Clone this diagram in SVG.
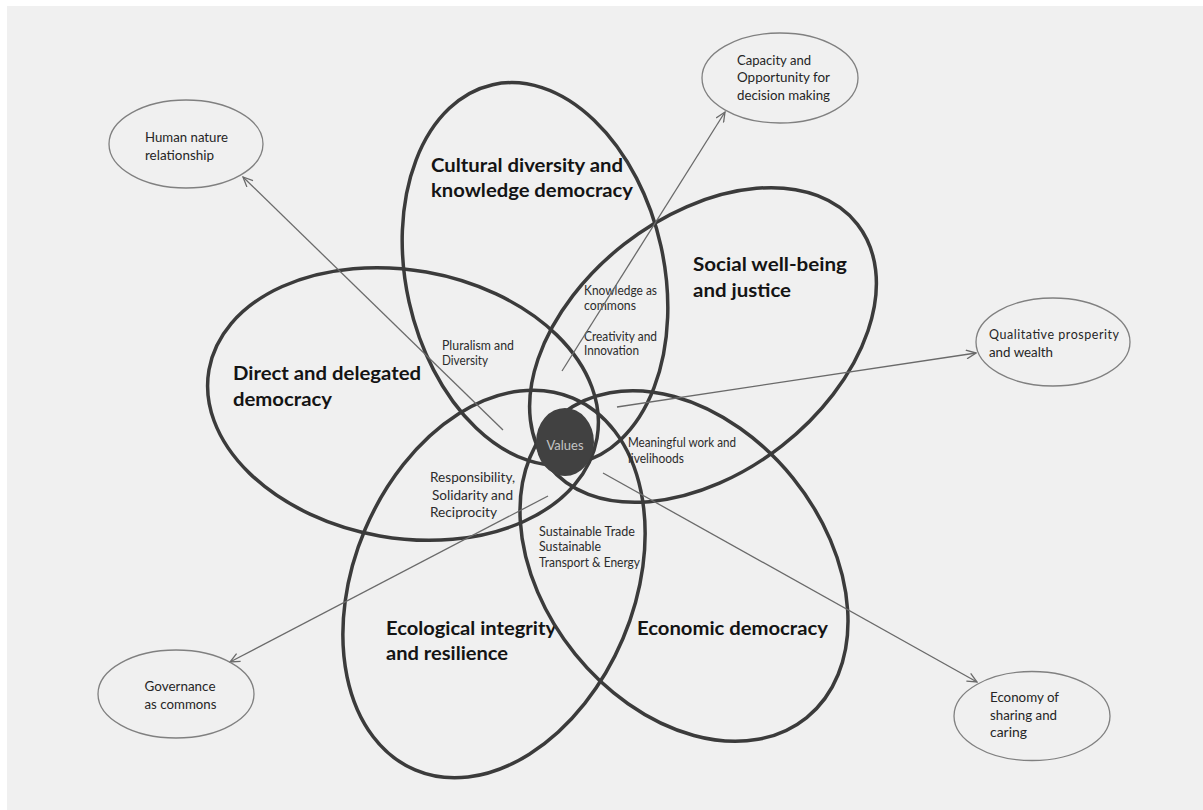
<svg xmlns="http://www.w3.org/2000/svg" width="1203" height="810" viewBox="0 0 1203 810">
<style>
.bg{fill:#f0f0f0}
.petal{fill:none;stroke:#3b3b3b;stroke-width:3.5}
.outer{fill:none;stroke:#808080;stroke-width:1.3}
.conn{fill:none;stroke:#6a6a6a;stroke-width:1.3;marker-end:url(#arr)}
.big{font-family:Lato,"Liberation Sans",sans-serif;font-weight:bold;font-size:19px;fill:#141414}
.small{font-family:Lato,"Liberation Sans",sans-serif;font-size:12.5px;fill:#2c2c2c}
.note{font-family:Lato,"Liberation Sans",sans-serif;font-size:12.5px;fill:#262626}
.core{fill:#414141}
.coretext{font-family:Lato,"Liberation Sans",sans-serif;font-size:13px;fill:#c4c4c4;text-anchor:middle}
</style>
<defs>
<marker id="arr" viewBox="0 0 11 10" refX="10.3" refY="5" markerWidth="11" markerHeight="10" markerUnits="userSpaceOnUse" orient="auto">
<path d="M0.6,0.6 L10.3,5 L0.6,9.4" fill="none" stroke="#6a6a6a" stroke-width="1.3"/>
</marker>
</defs>
<rect x="0" y="0" width="1203" height="810" fill="#ffffff"/>
<rect class="bg" x="7" y="6" width="1196" height="804"/>

<g id="petal-direct-democracy">
<ellipse class="petal" cx="0" cy="0" rx="197" ry="134" transform="translate(403,404) rotate(10)"/>
<text class="big" x="233" y="380" textLength="188" lengthAdjust="spacingAndGlyphs">Direct and delegated</text>
<text class="big" x="233" y="406" textLength="99" lengthAdjust="spacingAndGlyphs">democracy</text>
</g>
<g id="petal-cultural-diversity">
<ellipse class="petal" cx="0" cy="0" rx="129" ry="194" transform="translate(535,274) rotate(-12.6)"/>
<text class="big" x="431" y="172" textLength="192" lengthAdjust="spacingAndGlyphs">Cultural diversity and</text>
<text class="big" x="431" y="197" textLength="202" lengthAdjust="spacingAndGlyphs">knowledge democracy</text>
</g>
<g id="petal-social-wellbeing">
<ellipse class="petal" cx="0" cy="0" rx="196" ry="128" transform="translate(703,345) rotate(-38)"/>
<text class="big" x="693" y="271" textLength="154" lengthAdjust="spacingAndGlyphs">Social well-being</text>
<text class="big" x="693" y="297" textLength="98" lengthAdjust="spacingAndGlyphs">and justice</text>
</g>
<g id="petal-ecological-integrity">
<ellipse class="petal" cx="0" cy="0" rx="140" ry="202" transform="translate(494,584) rotate(23)"/>
<text class="big" x="386" y="635" textLength="170" lengthAdjust="spacingAndGlyphs">Ecological integrity</text>
<text class="big" x="386" y="660" textLength="122" lengthAdjust="spacingAndGlyphs">and resilience</text>
</g>
<g id="petal-economic-democracy">
<ellipse class="petal" cx="0" cy="0" rx="195" ry="140" transform="translate(684,566) rotate(51)"/>
<text class="big" x="637" y="635" textLength="191" lengthAdjust="spacingAndGlyphs">Economic democracy</text>
</g>

<g id="overlap-labels">
<text class="small" x="442" y="350" textLength="72" lengthAdjust="spacingAndGlyphs">Pluralism and</text>
<text class="small" x="442" y="365" textLength="46" lengthAdjust="spacingAndGlyphs">Diversity</text>
<text class="small" x="584" y="295" textLength="73" lengthAdjust="spacingAndGlyphs">Knowledge as</text>
<text class="small" x="584" y="310" textLength="52" lengthAdjust="spacingAndGlyphs">commons</text>
<text class="small" x="584" y="341" textLength="73" lengthAdjust="spacingAndGlyphs">Creativity and</text>
<text class="small" x="584" y="355" textLength="55" lengthAdjust="spacingAndGlyphs">Innovation</text>
<text class="small" x="628" y="447" textLength="108" lengthAdjust="spacingAndGlyphs">Meaningful work and</text>
<text class="small" x="628" y="463" textLength="56" lengthAdjust="spacingAndGlyphs">livelihoods</text>
<text class="small" x="430" y="482" textLength="85" lengthAdjust="spacingAndGlyphs">Responsibility,</text>
<text class="small" x="432" y="500" textLength="81" lengthAdjust="spacingAndGlyphs">Solidarity and</text>
<text class="small" x="430" y="517" textLength="67" lengthAdjust="spacingAndGlyphs">Reciprocity</text>
<text class="small" x="539" y="536" textLength="96" lengthAdjust="spacingAndGlyphs">Sustainable Trade</text>
<text class="small" x="539" y="551" textLength="62" lengthAdjust="spacingAndGlyphs">Sustainable</text>
<text class="small" x="539" y="567" textLength="101" lengthAdjust="spacingAndGlyphs">Transport &amp; Energy</text>
</g>

<g id="connectors">
<line class="conn" x1="503" y1="430" x2="243" y2="177"/>
<line class="conn" x1="562" y1="371" x2="725" y2="112"/>
<line class="conn" x1="617" y1="407" x2="976" y2="353"/>
<line class="conn" x1="548" y1="496" x2="230" y2="662"/>
<line class="conn" x1="603" y1="473" x2="977" y2="682"/>
</g>

<g id="values">
<ellipse class="core" cx="565" cy="442" rx="29" ry="34"/>
<text class="coretext" x="565" y="450" textLength="37" lengthAdjust="spacingAndGlyphs">Values</text>
</g>

<g id="human-nature">
<ellipse class="outer" cx="186" cy="144" rx="77" ry="44"/>
<text class="note" x="145" y="142" textLength="83" lengthAdjust="spacingAndGlyphs">Human nature</text>
<text class="note" x="145" y="160" textLength="69" lengthAdjust="spacingAndGlyphs">relationship</text>
</g>
<g id="capacity-opportunity">
<ellipse class="outer" cx="780" cy="78" rx="78" ry="45"/>
<text class="note" x="737" y="65" textLength="74" lengthAdjust="spacingAndGlyphs">Capacity and</text>
<text class="note" x="737" y="82" textLength="93" lengthAdjust="spacingAndGlyphs">Opportunity for</text>
<text class="note" x="737" y="100" textLength="93" lengthAdjust="spacingAndGlyphs">decision making</text>
</g>
<g id="qualitative-prosperity">
<ellipse class="outer" cx="1053" cy="342" rx="77" ry="44"/>
<text class="note" x="989" y="339" textLength="130" lengthAdjust="spacing">Qualitative prosperity</text>
<text class="note" x="989" y="357" textLength="64" lengthAdjust="spacingAndGlyphs">and wealth</text>
</g>
<g id="governance-commons">
<ellipse class="outer" cx="176" cy="694" rx="78" ry="44"/>
<text class="note" x="144.5" y="691" textLength="71" lengthAdjust="spacingAndGlyphs">Governance</text>
<text class="note" x="144.5" y="709" textLength="72" lengthAdjust="spacingAndGlyphs">as commons</text>
</g>
<g id="economy-sharing">
<ellipse class="outer" cx="1032" cy="716" rx="78" ry="44.5"/>
<text class="note" x="990" y="702" textLength="69" lengthAdjust="spacingAndGlyphs">Economy of</text>
<text class="note" x="990" y="720" textLength="67" lengthAdjust="spacingAndGlyphs">sharing and</text>
<text class="note" x="990" y="737" textLength="37" lengthAdjust="spacingAndGlyphs">caring</text>
</g>
</svg>
